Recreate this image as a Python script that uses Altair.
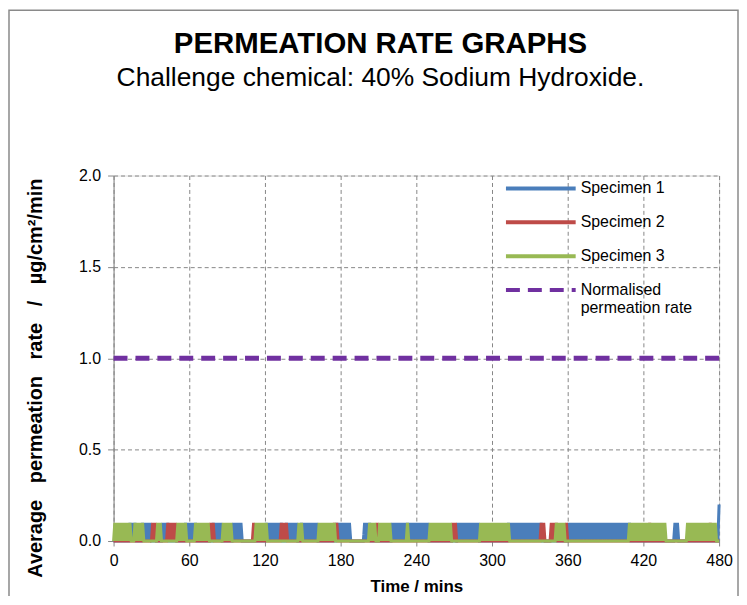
import altair as alt
import pandas as pd

# ---- data ----
series_names = ["Specimen 1", "Specimen 2", "Specimen 3", "Normalised permeation rate"]
series_colors = ["#4a7ebb", "#be4b48", "#98b954", "#7030a0"]

# minutes during which each specimen reading flickers between 0.0 and 0.1
spec1_active = [(13, 17), (23, 30), (38, 43), (57, 65), (79, 86), (94, 102), (121, 133),
                (137, 146), (149, 162), (177, 188), (199, 203), (220, 250), (272, 290),
                (313, 339), (360, 409), (445, 448)]
spec2_active = [(30, 34), (43, 50), (76, 79), (110, 112), (133, 137), (175, 177), (208, 210),
                (268, 272), (339, 342), (346, 351), (358, 360), (425, 426), (472, 474)]
spec3_active = [(0, 13), (17, 23), (34, 38), (50, 57), (65, 76), (86, 94), (112, 121),
                (146, 149), (162, 175), (203, 208), (210, 220), (232, 233), (250, 268),
                (290, 313), (351, 358), (409, 437), (455, 478)]
spec1_last_point = (480, 0.2)
reading_step = 0.1
time_minutes = list(range(0, 481))

normalised_time = [0, 480]
normalised_rate = [1.0, 1.0]

x_ticks = [0, 60, 120, 180, 240, 300, 360, 420, 480]
y_ticks = [0.0, 0.5, 1.0, 1.5, 2.0]


def readings(active):
    vals = []
    for t in time_minutes:
        on = any(a <= t <= b for a, b in active)
        vals.append(reading_step if (on and t % 2 == 1) else 0.0)
    return vals


rows = []
for name, active in zip(series_names[:3], [spec1_active, spec2_active, spec3_active]):
    vals = readings(active)
    if name == "Specimen 1":
        vals[time_minutes.index(spec1_last_point[0])] = spec1_last_point[1]
    for t, v in zip(time_minutes, vals):
        rows.append({"time": t, "rate": v, "series": name})
for t, v in zip(normalised_time, normalised_rate):
    rows.append({"time": t, "rate": v, "series": series_names[3]})
df = pd.DataFrame(rows)

FONT = "Liberation Sans"
GREY = "#868686"

legend = alt.Legend(
    title=None, orient="none", legendX=392, legendY=-2,
    symbolType="stroke", symbolSize=4900, symbolStrokeWidth=4,
    clipHeight=30, rowPadding=4, labelOffset=3,
    labelFont=FONT, labelFontSize=16, labelColor="black",
    labelExpr="datum.label == 'Normalised permeation rate' ? ['Normalised', 'permeation rate'] : datum.label",
)

color = alt.Color("series:N", scale=alt.Scale(domain=series_names, range=series_colors), legend=legend)
dash = alt.StrokeDash("series:N", scale=alt.Scale(domain=series_names,
                      range=[[1, 0], [1, 0], [1, 0], [14, 8]]), legend=legend)

nb = "\u00a0"
yt = ("Average" + nb * 3 + "permeation" + nb * 3 + "rate" + nb * 3 + "/" + nb * 3 + "µg/cm²/min")

x = alt.X("time:Q", scale=alt.Scale(domain=[0, 480], nice=False),
          axis=alt.Axis(values=x_ticks, title="Time / mins", titleFont=FONT, titleFontSize=17,
                        titleFontWeight="bold", titleColor="black", titleY=46, titleBaseline="middle",
                        labelFont=FONT, labelFontSize=16, labelColor="black", labelPadding=7,
                        tickSize=5, tickColor=GREY, domainColor=GREY, gridColor=GREY,
                        gridDash=[4, 3], labelFlush=False))
y = alt.Y("rate:Q", scale=alt.Scale(domain=[0, 2], nice=False),
          axis=alt.Axis(values=y_ticks, format=".1f", title=yt, titleFont=FONT, titleFontSize=20,
                        titleFontWeight="bold", titleColor="black", titleX=-78, titleY=203,
                        titleBaseline="middle", titleAngle=270,
                        labelFont=FONT, labelFontSize=16, labelColor="black", labelPadding=7,
                        tickSize=6, tickColor=GREY, domainColor=GREY, gridColor=GREY,
                        gridDash=[4, 3]))

base = alt.Chart(df)
layers = []
border = alt.Chart(alt.Data(values=[{"k": 1}])).mark_rect(
    fillOpacity=0, stroke="#8a8a8a", strokeWidth=1.5
).encode(x=alt.value(-105), x2=alt.value(627), y=alt.value(-166), y2=alt.value(460))
layers.append(border)
for name, w in zip(series_names, [3, 3, 3, 5]):
    layers.append(
        base.transform_filter(alt.datum.series == name)
        .mark_line(strokeWidth=w)
        .encode(x=x, y=y, color=color, strokeDash=dash)
    )

chart = alt.layer(*layers).properties(
    width=608, height=367, autosize="none",
    padding={"left": 106, "top": 167, "right": 20, "bottom": 54},
    title=alt.TitleParams(
        text="PERMEATION RATE GRAPHS", subtitle="Challenge chemical: 40% Sodium Hydroxide.",
        anchor="middle", font=FONT, fontSize=29.5, fontWeight="bold", color="black",
        subtitleFont=FONT, subtitleFontSize=26.5, subtitleColor="black", subtitlePadding=5,
        offset=-83, dx=-36,
    ),
).configure_view(stroke=GREY, strokeWidth=1).configure(background="white")

chart.save("out.html", embed_options={"renderer": "svg", "actions": False})
